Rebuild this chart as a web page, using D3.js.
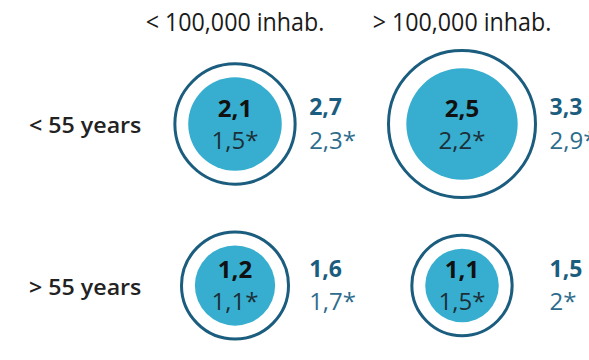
<!DOCTYPE html>
<html><head><meta charset="utf-8">
<script src="https://cdn.jsdelivr.net/npm/d3@7"></script>
<style>body{margin:0;background:#fff}svg{display:block}</style>
</head><body>
<script>
const columns = ["< 100,000 inhab.", "> 100,000 inhab."];
const rows = ["< 55 years", "> 55 years"];
// inner circle values (bold / starred)
const innerMain = [[2.1, 2.5], [1.2, 1.1]];
const innerStar = [[1.5, 2.2], [1.1, 1.5]];
// outer ring values (bold / starred)
const outerMain = [[2.7, 3.3], [1.6, 1.5]];
const outerStar = [[2.3, 2.9], [1.7, 2.0]];

const W = 589, H = 360;
const font = "'Open Sans', sans-serif";
const fmt = v => String(v).replace(".", ",");

const svg = d3.select("body").append("svg").attr("width", W).attr("height", H);

const x = d3.scalePoint().domain(columns).range([235, 462]);
const y = d3.scalePoint().domain(rows).range([124, 285.5]);
// one radius scale per row, domain up to row max
const rowMaxR = [73.5, 53.5];
const rScales = rows.map((r, i) => d3.scaleLinear()
  .domain([0, d3.max(outerMain[i])]).range([0, rowMaxR[i]]));

// horizontal stretch / squeeze of a text around its x anchor
function squeezed(sel, sx) {
  sel.each(function () {
    const t = d3.select(this);
    const px = +t.attr("x") || 0;
    t.attr("transform", `translate(${px},0) scale(${sx},1) translate(${-px},0)`);
  });
}

svg.selectAll("text.col").data(columns).join("text")
  .attr("x", d => x(d)).attr("y", 31.5).attr("text-anchor", "middle")
  .attr("font-family", font).attr("font-weight", 500).attr("font-size", 25).attr("fill", "#1a1a1a")
  .text(d => d).call(squeezed, 0.93);

svg.selectAll("text.row").data(rows).join("text")
  .attr("x", 29).attr("y", d => y(d) + 9.5)
  .attr("font-family", font).attr("font-weight", 600).attr("font-size", 21.5).attr("fill", "#222")
  .text(d => d).call(squeezed, 1.08);

const cells = [];
rows.forEach((r, i) => columns.forEach((c, j) => cells.push({
  r, c, i, j, im: innerMain[i][j], is: innerStar[i][j], om: outerMain[i][j], os: outerStar[i][j]
})));

const g = svg.selectAll("g.cell").data(cells).join("g")
  .attr("transform", d => `translate(${x(d.c)},${y(d.r)})`);

g.append("circle").attr("r", d => rScales[d.i](d.om))
  .attr("fill", "none").attr("stroke", "#1b5d7e").attr("stroke-width", 3);
g.append("circle").attr("r", d => rScales[d.i](d.im)).attr("fill", "#37aecf");

g.append("text").attr("y", -7.5).attr("text-anchor", "middle")
  .attr("font-family", font).attr("font-weight", 700).attr("font-size", 24)
  .attr("fill", "#111").text(d => fmt(d.im));
g.append("text").attr("y", 24.5).attr("text-anchor", "middle")
  .attr("font-family", font).attr("font-weight", 400).attr("font-size", 24)
  .attr("fill", "#1c2f38").text(d => fmt(d.is) + "*");

// side labels aligned per column, next to the top-row ring
const sideX = d => rScales[0](outerMain[0][d.j]) + 14;
g.append("text").attr("x", sideX).attr("y", -9)
  .attr("font-family", font).attr("font-weight", 700).attr("font-size", 23)
  .attr("fill", "#1b5d7e").text(d => fmt(d.om));
g.append("text").attr("x", sideX).attr("y", 24.5)
  .attr("font-family", font).attr("font-weight", 400).attr("font-size", 24)
  .attr("fill", "#2d6c8c").text(d => fmt(d.os) + "*");
</script>
</body></html>
